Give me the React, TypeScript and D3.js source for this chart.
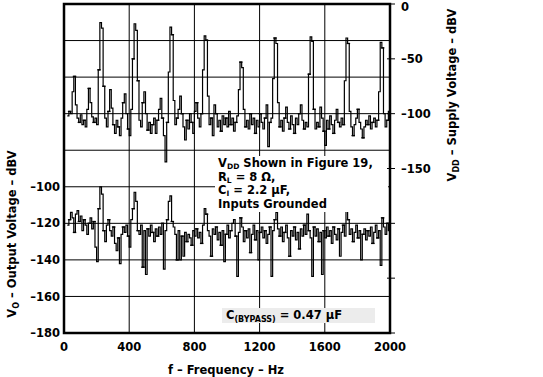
import React from "react";
import * as d3 from "d3";

// Frequency axis (Hz): samples every 10 Hz from 20 to 2000
const freqStart = 20;
const freqStep = 10;

// Upper trace: VDD supply voltage (dBV, right axis)
const supplyDbv: number[] = [
  -102, -98, -100, -80, -66, -92, -104, -108, -101, -110,
  -106, -112, -96, -77, -90, -103, -108, -104, -110, -60,
  -17, -22, -75, -104, -112, -98, -78, -95, -110, -118,
  -106, -112, -120, -104, -90, -82, -100, -114, -120, -96,
  -50, -18, -24, -70, -106, -112, -90, -80, -100, -115,
  -108, -118, -110, -104, -118, -106, -96, -86, -104, -120,
  -144, -108, -62, -21, -28, -88, -110, -104, -96, -84,
  -100, -112, -124, -106, -114, -100, -108, -118, -98, -90,
  -104, -112, -100, -60, -29, -33, -84, -110, -104, -120,
  -92, -100, -112, -106, -116, -102, -110, -104, -112, -98,
  -110, -104, -116, -108, -102, -78, -53, -58, -96, -112,
  -106, -114, -100, -110, -104, -118, -106, -112, -100, -108,
  -114, -104, -92, -130, -108, -104, -68, -31, -36, -90,
  -112, -106, -116, -104, -94, -108, -114, -102, -110, -118,
  -104, -110, -100, -92, -106, -114, -108, -112, -64, -30,
  -34, -96, -114, -108, -112, -94, -104, -116, -129, -106,
  -114, -102, -110, -118, -106, -96, -108, -112, -104, -110,
  -70, -31, -36, -98, -112, -120, -110, -104, -96, -108,
  -114, -122, -112, -106, -110, -102, -114, -108, -104, -112,
  -106, -80, -35, -40, -100, -112, -106, -98, -100,
];

// Lower trace: VO output voltage (dBV, left axis)
const outputDbv: number[] = [
  -121, -118, -114, -117, -125, -115, -113, -119, -116, -124,
  -118, -121, -126, -120, -117, -123, -119, -133, -141, -112,
  -100, -104, -124, -130, -121, -118, -124, -127, -122, -131,
  -135, -128, -142, -126, -122, -125, -121, -127, -133, -118,
  -112, -103, -108, -124, -126, -121, -144, -124, -148, -123,
  -127, -121, -125, -130, -123, -127, -122, -126, -120, -145,
  -124, -118, -108, -105, -119, -122, -126, -140, -124, -140,
  -127, -138, -125, -130, -126, -128, -132, -124, -127, -123,
  -128, -125, -131, -121, -112, -115, -124, -127, -138, -123,
  -126, -122, -129, -125, -132, -124, -141, -126, -121, -128,
  -124, -120, -118, -127, -149, -125, -117, -122, -130, -124,
  -128, -123, -136, -126, -121, -129, -124, -140, -125, -122,
  -128, -124, -131, -126, -122, -149, -124, -118, -114, -123,
  -127, -122, -130, -125, -121, -128, -138, -124, -127, -122,
  -129, -125, -134, -123, -127, -121, -126, -115, -124, -128,
  -149, -122, -127, -123, -130, -125, -148, -124, -128, -122,
  -127, -124, -131, -122, -126, -129, -123, -138, -125, -121,
  -127, -113, -118, -126, -123, -130, -125, -121, -128, -124,
  -140, -126, -123, -129, -124, -127, -122, -131, -125, -121,
  -128, -124, -143, -117, -122, -126, -120, -124, -121,
];

const xTicks = [0, 400, 800, 1200, 1600, 2000];
const leftGridTicks = [-180, -160, -140, -120, -100, -80, -60, -40, -20, 0];
const leftLabelTicks = [-180, -160, -140, -120, -100];
const rightTicks = [0, -50, -100, -150, -200, -250, -300];
const rightLabelTicks = [0, -50, -100, -150];

const W = 543;
const H = 377;
const L = 64, R = 390, T = 4, B = 333;
const FONT = "'DejaVu Sans', sans-serif";

export default function App() {
  const x = d3.scaleLinear().domain([0, 2000]).range([L, R]);
  const yL = d3.scaleLinear().domain([-180, 0]).range([B, T]);
  const yR = d3.scaleLinear().domain([-300, 0]).range([B, T]);

  const fx = (i: number) => x(freqStart + i * freqStep);

  const line = (ys: d3.ScaleLinear<number, number>) =>
    d3
      .line<number>()
      .x((_, i) => fx(i))
      .y((d) => ys(d))
      .curve(d3.curveStepAfter);

  const upperPath = line(yR)(supplyDbv) || "";
  const lowerPath = line(yL)(outputDbv) || "";

  const tickFont = { fontFamily: FONT, fontWeight: 700, fontSize: 11.5 } as const;

  const markers = (vals: number[], ys: d3.ScaleLinear<number, number>, key: string) =>
    vals.map((v, i) =>
      i % 3 === 1 ? (
        <line
          key={key + i}
          x1={fx(i) - 1}
          x2={fx(i) + 2.5}
          y1={ys(v)}
          y2={ys(v)}
          stroke="#000"
          strokeWidth={1.3}
        />
      ) : null
    );

  return (
    <svg
      width={W}
      height={H}
      style={{ position: "absolute", left: 0, top: 0, background: "#fff" }}
    >
      {/* grid */}
      {leftGridTicks.map((t) => (
        <line key={"h" + t} x1={L} x2={R} y1={yL(t)} y2={yL(t)} stroke="#000" strokeWidth={1} />
      ))}
      {xTicks.map((t) => (
        <line key={"v" + t} x1={x(t)} x2={x(t)} y1={T} y2={B} stroke="#000" strokeWidth={1} />
      ))}

      {/* traces */}
      <path d={upperPath} fill="none" stroke="#000" strokeWidth={1.2} />
      <path d={lowerPath} fill="none" stroke="#000" strokeWidth={1.2} />
      {markers(supplyDbv, yR, "mu")}
      {markers(outputDbv, yL, "ml")}

      {/* annotation box */}
      <rect x={215} y={156} width={R - 217} height={56} fill="#fff" />
      <text style={{ ...tickFont, fontSize: 11.5 }}>
        <tspan x={218} y={167}>V</tspan>
        <tspan dy={2} fontSize={7.5}>DD</tspan>
        <tspan dy={-2}> Shown in Figure 19,</tspan>
        <tspan x={218} y={180.5}>R</tspan>
        <tspan dy={2} fontSize={7.5}>L</tspan>
        <tspan dy={-2}> = 8 Ω,</tspan>
        <tspan x={218} y={194}>C</tspan>
        <tspan dy={2} fontSize={7.5}>I</tspan>
        <tspan dy={-2}> = 2.2 µF,</tspan>
        <tspan x={218} y={207.5}>Inputs Grounded</tspan>
      </text>

      {/* bypass label */}
      <rect x={222} y={308} width={153} height={15} fill="#ececec" />
      <text style={tickFont}>
        <tspan x={226} y={319}>C</tspan>
        <tspan dy={2.5} fontSize={8}>(BYPASS)</tspan>
        <tspan dy={-2.5}> = 0.47 µF</tspan>
      </text>

      {/* frame */}
      <rect x={L} y={T} width={R - L} height={B - T} fill="none" stroke="#000" strokeWidth={2.5} />

      {/* right ticks */}
      {rightTicks.map((t) => (
        <line key={"rt" + t} x1={R - 3} x2={R + 5} y1={yR(t)} y2={yR(t)} stroke="#000" strokeWidth={1} />
      ))}

      {/* x tick labels */}
      {xTicks.map((t) => (
        <text key={"xl" + t} x={x(t)} y={351} textAnchor="middle" style={tickFont}>
          {t}
        </text>
      ))}
      {/* left labels */}
      {leftLabelTicks.map((t) => (
        <text key={"ll" + t} x={60} y={yL(t)} dy="0.36em" textAnchor="end" style={tickFont}>
          {"\u2013" + Math.abs(t)}
        </text>
      ))}
      {/* right labels */}
      {rightLabelTicks.map((t) => (
        <text key={"rl" + t} x={401} y={Math.max(yR(t), 7)} dy="0.36em" textAnchor="start" style={tickFont}>
          {t === 0 ? "0" : "\u2013" + Math.abs(t)}
        </text>
      ))}

      {/* axis titles */}
      <text x={226} y={374} textAnchor="middle" style={tickFont}>
        f – Frequency – Hz
      </text>
      <text transform="translate(16,234) rotate(-90)" textAnchor="middle" style={tickFont}>
        <tspan>V</tspan>
        <tspan dy={2.5} fontSize={8}>O</tspan>
        <tspan dy={-2.5}> – Output Voltage – dBV</tspan>
      </text>
      <text transform="translate(456,95) rotate(-90)" textAnchor="middle" style={tickFont}>
        <tspan>V</tspan>
        <tspan dy={2.5} fontSize={8}>DD</tspan>
        <tspan dy={-2.5}> – Supply Voltage – dBV</tspan>
      </text>
    </svg>
  );
}
